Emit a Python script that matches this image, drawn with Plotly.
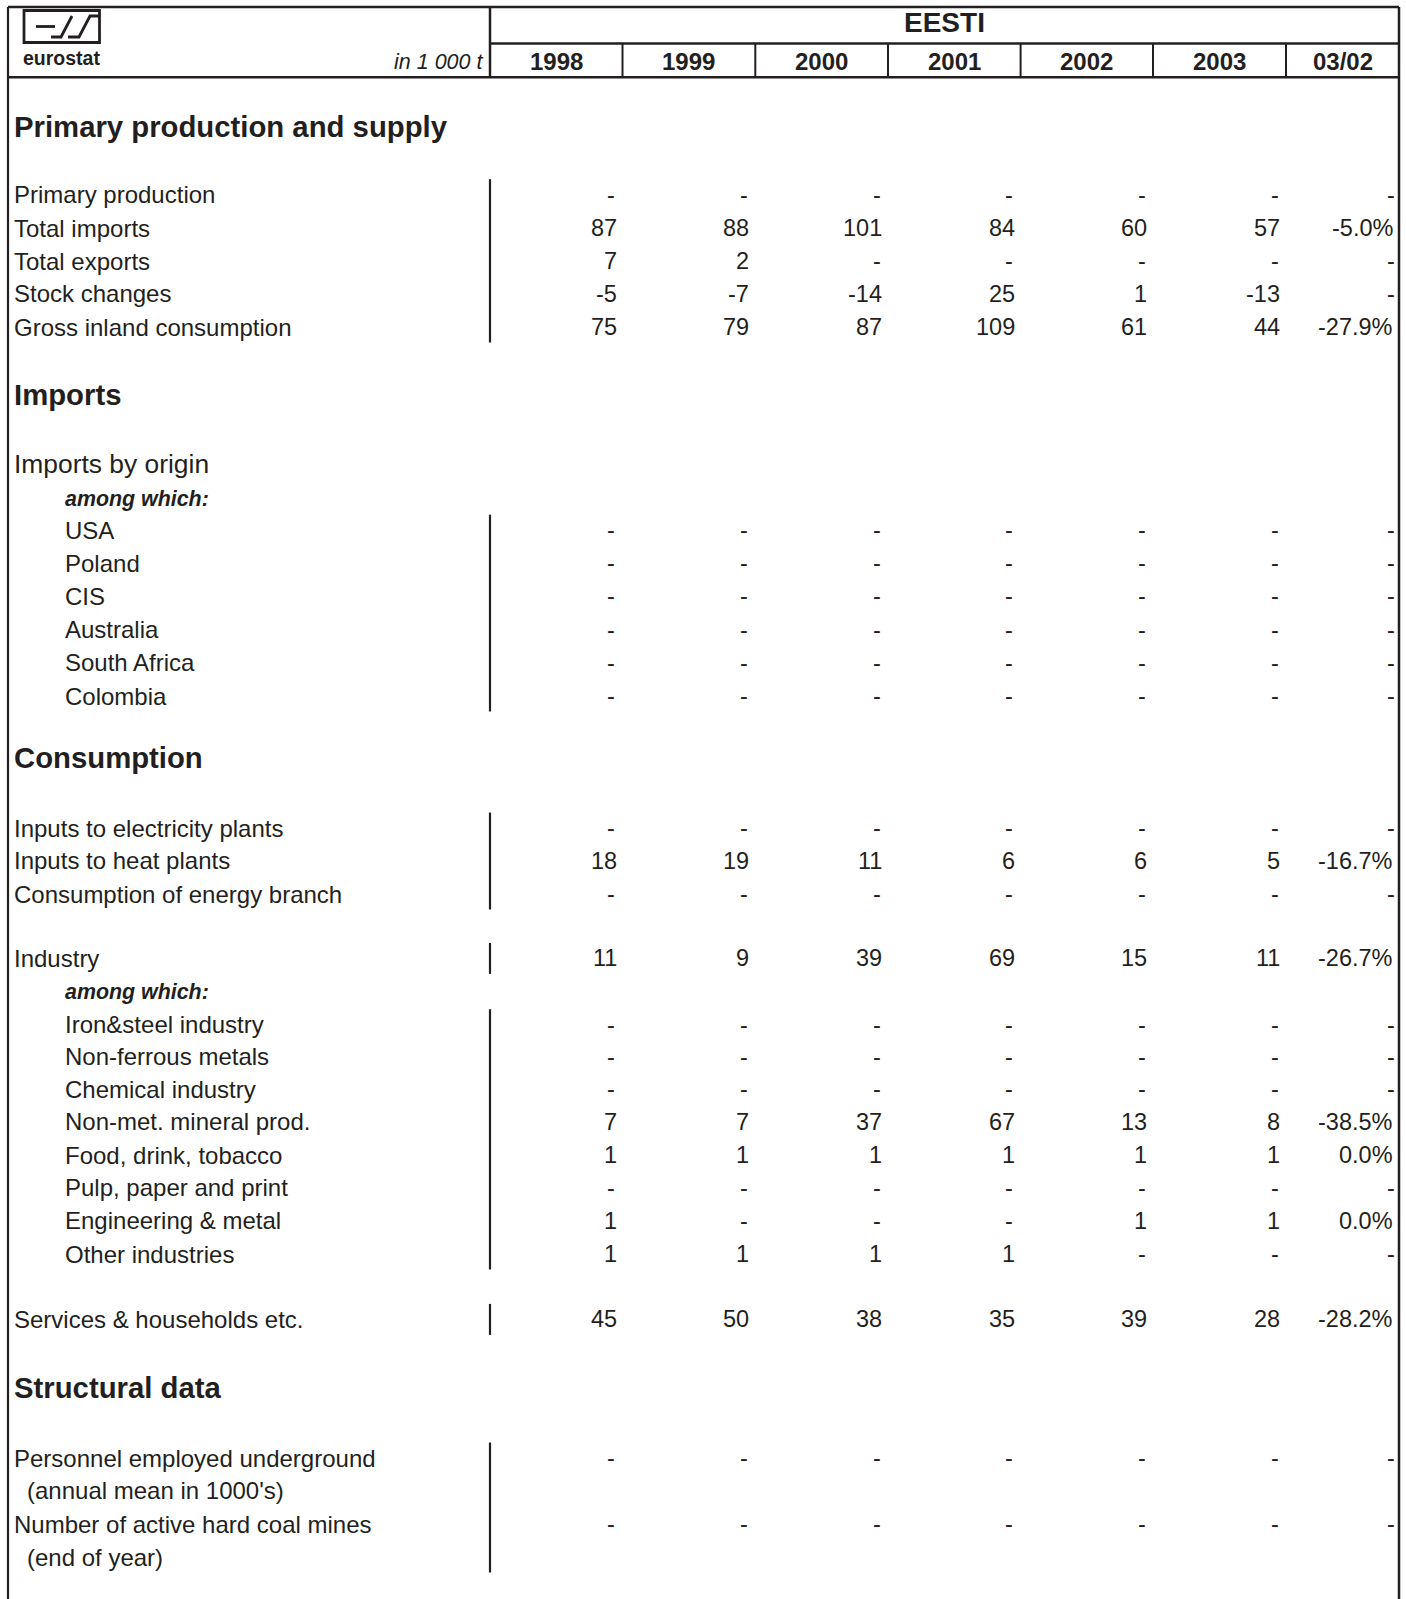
import plotly.graph_objects as go

# ---------------- DATA ----------------
country = "EESTI"
unit_label = "in 1 000 t"
years = ["1998", "1999", "2000", "2001", "2002", "2003"]
change_label = "03/02"

primary_production = [None, None, None, None, None, None]
total_imports = [87, 88, 101, 84, 60, 57]
total_exports = [7, 2, None, None, None, None]
stock_changes = [-5, -7, -14, 25, 1, -13]
gross_inland_consumption = [75, 79, 87, 109, 61, 44]

imports_usa = [None, None, None, None, None, None]
imports_poland = [None, None, None, None, None, None]
imports_cis = [None, None, None, None, None, None]
imports_australia = [None, None, None, None, None, None]
imports_south_africa = [None, None, None, None, None, None]
imports_colombia = [None, None, None, None, None, None]

inputs_electricity = [None, None, None, None, None, None]
inputs_heat = [18, 19, 11, 6, 6, 5]
energy_branch = [None, None, None, None, None, None]

industry = [11, 9, 39, 69, 15, 11]
iron_steel = [None, None, None, None, None, None]
non_ferrous = [None, None, None, None, None, None]
chemical = [None, None, None, None, None, None]
non_met_mineral = [7, 7, 37, 67, 13, 8]
food_drink = [1, 1, 1, 1, 1, 1]
pulp_paper = [None, None, None, None, None, None]
engineering = [1, None, None, None, 1, 1]
other_industries = [1, 1, 1, 1, None, None]

services_households = [45, 50, 38, 35, 39, 28]

personnel_underground = [None, None, None, None, None, None]
active_mines = [None, None, None, None, None, None]

# 03/02 change column (percent), None = "-"
change_values = {
    "Primary production": None,
    "Total imports": -5.0,
    "Total exports": None,
    "Stock changes": None,
    "Gross inland consumption": -27.9,
    "Inputs to heat plants": -16.7,
    "Industry": -26.7,
    "Non-met. mineral prod.": -38.5,
    "Food, drink, tobacco": 0.0,
    "Engineering & metal": 0.0,
    "Services & households etc.": -28.2,
}

# ---------------- TABLE STRUCTURE ----------------
# (kind, label, values)
rows = [
    ("head", "Primary production and supply", None),
    ("row", "Primary production", primary_production),
    ("row", "Total imports", total_imports),
    ("row", "Total exports", total_exports),
    ("row", "Stock changes", stock_changes),
    ("row", "Gross inland consumption", gross_inland_consumption),
    ("head", "Imports", None),
    ("big", "Imports by origin", None),
    ("among", "among which:", None),
    ("irow", "USA", imports_usa),
    ("irow", "Poland", imports_poland),
    ("irow", "CIS", imports_cis),
    ("irow", "Australia", imports_australia),
    ("irow", "South Africa", imports_south_africa),
    ("irow", "Colombia", imports_colombia),
    ("head", "Consumption", None),
    ("row", "Inputs to electricity plants", inputs_electricity),
    ("row", "Inputs to heat plants", inputs_heat),
    ("row", "Consumption of energy branch", energy_branch),
    ("row", "Industry", industry),
    ("among", "among which:", None),
    ("irow", "Iron&steel industry", iron_steel),
    ("irow", "Non-ferrous metals", non_ferrous),
    ("irow", "Chemical industry", chemical),
    ("irow", "Non-met. mineral prod.", non_met_mineral),
    ("irow", "Food, drink, tobacco", food_drink),
    ("irow", "Pulp, paper and print", pulp_paper),
    ("irow", "Engineering & metal", engineering),
    ("irow", "Other industries", other_industries),
    ("row", "Services & households etc.", services_households),
    ("head", "Structural data", None),
    ("row", "Personnel employed underground", personnel_underground),
    ("cont", "(annual mean in 1000's)", None),
    ("row", "Number of active hard coal mines", active_mines),
    ("cont", "(end of year)", None),
]

# ---------------- LAYOUT (pixel geometry) ----------------
W, H = 1406, 1599
row_y = [126.5, 194.7, 228.0, 261.0, 293.6, 327.0,
         394.6, 464.0, 498.6, 530.2, 563.3, 596.2, 629.6, 662.6, 696.0,
         757.6, 828.0, 860.6, 894.0, 958.4, 992.0,
         1024.7, 1056.6, 1089.0, 1121.6, 1155.0, 1187.8, 1220.5, 1254.0,
         1319.4, 1387.7, 1458.0, 1490.7, 1524.3, 1557.0]

left_x = 8
right_x = 1399
top_y = 7
header_mid_y = 43.5
header_bot_y = 77.3
label_div_x = 490
col_right = [622.5, 755.3, 888, 1020.6, 1153, 1286, 1399]
col_left = [label_div_x] + col_right[:-1]

INK = "#231f20"
FONT = "Liberation Sans, Arial, Helvetica, sans-serif"

SZ_HEAD = 29.3
SZ_BIG = 26.4
SZ_LABEL = 24
SZ_NUM = 23.5
SZ_AMONG = 21.4

fig = go.Figure()
fig.add_trace(go.Scatter(x=[0, W], y=[0, H], mode="markers",
                         marker=dict(opacity=0), hoverinfo="skip", showlegend=False))

shapes = []
annotations = []


def line(x0, y0, x1, y1, w=2.0):
    shapes.append(dict(type="line", xref="x", yref="y", x0=x0, y0=y0, x1=x1, y1=y1,
                       line=dict(color=INK, width=w)))


def text(x, y, s, size, anchor="left", bold=False, italic=False):
    s2 = s
    if bold:
        s2 = "<b>" + s2 + "</b>"
    if italic:
        s2 = "<i>" + s2 + "</i>"
    annotations.append(dict(x=x, y=y, xref="x", yref="y", text=s2, showarrow=False,
                            xanchor=anchor, yanchor="middle",
                            font=dict(family=FONT, size=size, color=INK),
                            borderpad=0, borderwidth=0))


# outer frame
line(left_x, top_y, right_x, top_y, 2.5)
line(left_x, top_y, left_x, H + 5, 2.2)
line(right_x, top_y, right_x, H + 5, 2.5)
# header lines
line(label_div_x, top_y, label_div_x, header_bot_y, 2.5)
line(label_div_x, header_mid_y, right_x, header_mid_y, 2.5)
line(left_x, header_bot_y, right_x, header_bot_y, 2.5)
for xr in col_right[:-1]:
    line(xr, header_mid_y, xr, header_bot_y, 2.0)

# header texts
text((label_div_x + right_x) / 2, 22, country, 28, anchor="center", bold=True)
for i, lab in enumerate(years + [change_label]):
    text((col_left[i] + col_right[i]) / 2, 61.5, lab, 24, anchor="center", bold=True)
text(label_div_x - 7, 62, unit_label, 21.5, anchor="right", italic=True)

# eurostat logo
shapes.append(dict(type="rect", xref="x", yref="y", x0=24, y0=10.5, x1=99.5, y1=42.5,
                   line=dict(color=INK, width=2.8)))
for p in ["M 36 26.5 L 55 26.5",
          "M 51 37 L 61 37 L 72 16",
          "M 68 37 L 79 37 L 90 16 L 99 16"]:
    shapes.append(dict(type="path", xref="x", yref="y", path=p,
                       line=dict(color=INK, width=2.8)))
text(23, 58, "eurostat", 19.5, anchor="left", bold=True)


def fmt(v):
    return "-" if v is None else f"{v:d}"


def fmt_pct(v):
    return "-" if v is None else f"{v:.1f}%"


# body
groups = []
cur = None
prev_y = None
for (kind, label, vals), y in zip(rows, row_y):
    if kind == "head":
        text(14, y, label, SZ_HEAD, bold=True)
    elif kind == "big":
        text(14, y, label, SZ_BIG)
    elif kind == "among":
        text(65, y, label, SZ_AMONG, bold=True, italic=True)
    elif kind in ("row", "irow", "cont"):
        if kind == "irow":
            text(65, y, label, SZ_LABEL)
        elif kind == "cont":
            text(26.5, y, label, SZ_LABEL)
        else:
            text(14, y, label, SZ_LABEL)
        if vals is not None:
            for i, v in enumerate(vals):
                xr = col_right[i] - 6 - (1.5 if v is None else 0)
                text(xr, y, fmt(v), SZ_NUM, anchor="right")
            c = change_values.get(label)
            xr = col_right[-1] - 6 + (2 if c is None else 0)
            text(xr, y, fmt_pct(c), SZ_NUM, anchor="right")
        # vertical group bars
        if cur is not None and prev_y is not None and y - prev_y < 40:
            cur[1] = y
        else:
            cur = [y, y]
            groups.append(cur)
        prev_y = y
        continue
    cur = None
    prev_y = None

for g0, g1 in groups:
    line(label_div_x, g0 - 15.5, label_div_x, g1 + 15.5, 2.2)

fig.update_layout(
    width=W, height=H,
    margin=dict(l=0, r=0, t=0, b=0),
    paper_bgcolor="white", plot_bgcolor="white",
    xaxis=dict(range=[0, W], visible=False, fixedrange=True),
    yaxis=dict(range=[H, 0], visible=False, fixedrange=True),
    shapes=shapes, annotations=annotations, showlegend=False,
)

fig.write_html("out.html", config={"displayModeBar": False},
               post_script="document.body.style.margin='0';document.body.style.overflow='hidden';")
